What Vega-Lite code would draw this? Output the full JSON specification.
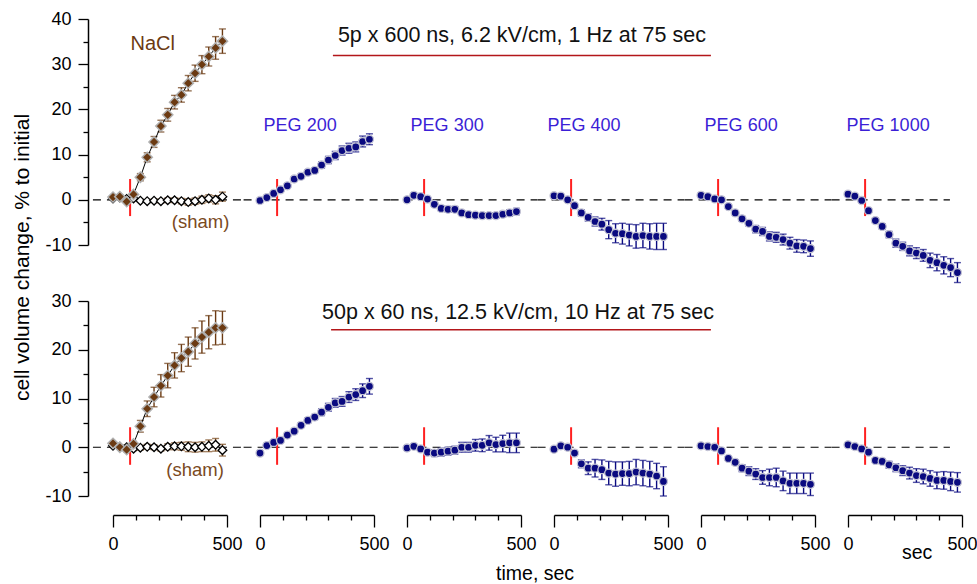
{
"$schema": "https://vega.github.io/schema/vega-lite/v6.json",
"padding": {"left": 11, "top": 10, "right": 0, "bottom": 0},
"spacing": 282,
"bounds": "flush",
"config": {"view": {"stroke": null}, "font": "Liberation Sans", "axis": {"grid": false, "labelFont": "Liberation Sans", "titleFont": "Liberation Sans", "labelOverlap": false, "labelFlush": false, "labelBound": false, "domainWidth": 1.5, "domainColor": "black", "tickColor": "black", "tickWidth": 1.3, "labelFontSize": 18, "labelColor": "black", "titleFontSize": 21, "titleFontWeight": "normal", "titleColor": "black"}},
"datasets": {
"top": [
{"p":"NaCl","s":"N","t":0,"v":0.6,"e":0.3},{"p":"NaCl","s":"N","t":30,"v":0.7,"e":0.3},{"p":"NaCl","s":"N","t":60,"v":-0.4,"e":0.3},{"p":"NaCl","s":"N","t":90,"v":1.2,"e":0.4},{"p":"NaCl","s":"N","t":120,"v":5.0,"e":0.8},{"p":"NaCl","s":"N","t":150,"v":9.4,"e":1.0},{"p":"NaCl","s":"N","t":180,"v":12.8,"e":1.2},{"p":"NaCl","s":"N","t":210,"v":16.3,"e":1.3},{"p":"NaCl","s":"N","t":240,"v":18.8,"e":1.4},{"p":"NaCl","s":"N","t":270,"v":21.6,"e":1.5},{"p":"NaCl","s":"N","t":300,"v":23.2,"e":1.6},{"p":"NaCl","s":"N","t":330,"v":25.8,"e":1.7},{"p":"NaCl","s":"N","t":360,"v":28.0,"e":1.8},{"p":"NaCl","s":"N","t":390,"v":29.9,"e":2.0},{"p":"NaCl","s":"N","t":420,"v":31.7,"e":2.1},{"p":"NaCl","s":"N","t":450,"v":33.6,"e":2.5},{"p":"NaCl","s":"N","t":480,"v":35.1,"e":2.7},
{"p":"NaCl","s":"S","t":0,"v":0.3,"e":0.2},{"p":"NaCl","s":"S","t":30,"v":0.5,"e":0.2},{"p":"NaCl","s":"S","t":60,"v":0.2,"e":0.2},{"p":"NaCl","s":"S","t":90,"v":0.3,"e":0.3},{"p":"NaCl","s":"S","t":120,"v":-0.2,"e":0.3},{"p":"NaCl","s":"S","t":150,"v":-0.3,"e":0.3},{"p":"NaCl","s":"S","t":180,"v":-0.2,"e":0.4},{"p":"NaCl","s":"S","t":210,"v":-0.3,"e":0.4},{"p":"NaCl","s":"S","t":240,"v":-0.1,"e":0.5},{"p":"NaCl","s":"S","t":270,"v":-0.1,"e":0.5},{"p":"NaCl","s":"S","t":300,"v":-0.3,"e":0.6},{"p":"NaCl","s":"S","t":330,"v":-0.5,"e":0.7},{"p":"NaCl","s":"S","t":360,"v":-0.3,"e":0.7},{"p":"NaCl","s":"S","t":390,"v":0.0,"e":0.8},{"p":"NaCl","s":"S","t":420,"v":0.3,"e":0.8},{"p":"NaCl","s":"S","t":450,"v":0.0,"e":0.9},{"p":"NaCl","s":"S","t":480,"v":0.7,"e":1.0},
{"p":"PEG 200","s":"P","t":0,"v":-0.15,"e":0.3},{"p":"PEG 200","s":"P","t":30,"v":0.5,"e":0.3},{"p":"PEG 200","s":"P","t":60,"v":1.4,"e":0.3},{"p":"PEG 200","s":"P","t":90,"v":2.2,"e":0.3},{"p":"PEG 200","s":"P","t":120,"v":3.1,"e":0.3},{"p":"PEG 200","s":"P","t":150,"v":4.6,"e":0.4},{"p":"PEG 200","s":"P","t":180,"v":5.2,"e":0.4},{"p":"PEG 200","s":"P","t":210,"v":6.1,"e":0.5},{"p":"PEG 200","s":"P","t":240,"v":6.5,"e":0.5},{"p":"PEG 200","s":"P","t":270,"v":7.7,"e":0.7},{"p":"PEG 200","s":"P","t":300,"v":8.8,"e":0.8},{"p":"PEG 200","s":"P","t":330,"v":9.8,"e":0.9},{"p":"PEG 200","s":"P","t":360,"v":10.9,"e":1.0},{"p":"PEG 200","s":"P","t":390,"v":11.4,"e":1.1},{"p":"PEG 200","s":"P","t":420,"v":11.7,"e":1.1},{"p":"PEG 200","s":"P","t":450,"v":12.9,"e":1.2},{"p":"PEG 200","s":"P","t":480,"v":13.4,"e":1.2},
{"p":"PEG 300","s":"P","t":0,"v":0.0,"e":0.3},{"p":"PEG 300","s":"P","t":30,"v":1.0,"e":0.3},{"p":"PEG 300","s":"P","t":60,"v":0.7,"e":0.3},{"p":"PEG 300","s":"P","t":90,"v":0.15,"e":0.3},{"p":"PEG 300","s":"P","t":120,"v":-1.0,"e":0.4},{"p":"PEG 300","s":"P","t":150,"v":-1.9,"e":0.5},{"p":"PEG 300","s":"P","t":180,"v":-2.1,"e":0.6},{"p":"PEG 300","s":"P","t":210,"v":-2.1,"e":0.6},{"p":"PEG 300","s":"P","t":240,"v":-2.9,"e":0.5},{"p":"PEG 300","s":"P","t":270,"v":-3.3,"e":0.5},{"p":"PEG 300","s":"P","t":300,"v":-3.4,"e":0.5},{"p":"PEG 300","s":"P","t":330,"v":-3.5,"e":0.6},{"p":"PEG 300","s":"P","t":360,"v":-3.5,"e":0.6},{"p":"PEG 300","s":"P","t":390,"v":-3.5,"e":0.6},{"p":"PEG 300","s":"P","t":420,"v":-3.2,"e":0.6},{"p":"PEG 300","s":"P","t":450,"v":-2.9,"e":0.7},{"p":"PEG 300","s":"P","t":480,"v":-2.6,"e":0.7},
{"p":"PEG 400","s":"P","t":0,"v":0.9,"e":0.2},{"p":"PEG 400","s":"P","t":30,"v":0.8,"e":0.2},{"p":"PEG 400","s":"P","t":60,"v":0.0,"e":0.3},{"p":"PEG 400","s":"P","t":90,"v":-1.3,"e":0.4},{"p":"PEG 400","s":"P","t":120,"v":-2.9,"e":0.7},{"p":"PEG 400","s":"P","t":150,"v":-3.9,"e":0.8},{"p":"PEG 400","s":"P","t":180,"v":-4.8,"e":1.0},{"p":"PEG 400","s":"P","t":210,"v":-5.4,"e":1.3},{"p":"PEG 400","s":"P","t":240,"v":-6.6,"e":2.0},{"p":"PEG 400","s":"P","t":270,"v":-7.4,"e":2.1},{"p":"PEG 400","s":"P","t":300,"v":-7.5,"e":2.3},{"p":"PEG 400","s":"P","t":330,"v":-7.8,"e":2.4},{"p":"PEG 400","s":"P","t":360,"v":-8.1,"e":2.6},{"p":"PEG 400","s":"P","t":390,"v":-7.9,"e":2.7},{"p":"PEG 400","s":"P","t":420,"v":-8.1,"e":2.8},{"p":"PEG 400","s":"P","t":450,"v":-8.1,"e":2.9},{"p":"PEG 400","s":"P","t":480,"v":-8.1,"e":2.9},
{"p":"PEG 600","s":"P","t":0,"v":1.0,"e":0.2},{"p":"PEG 600","s":"P","t":30,"v":0.7,"e":0.2},{"p":"PEG 600","s":"P","t":60,"v":0.2,"e":0.2},{"p":"PEG 600","s":"P","t":90,"v":0.0,"e":0.3},{"p":"PEG 600","s":"P","t":120,"v":-1.5,"e":0.3},{"p":"PEG 600","s":"P","t":150,"v":-2.9,"e":0.4},{"p":"PEG 600","s":"P","t":180,"v":-4.2,"e":0.5},{"p":"PEG 600","s":"P","t":210,"v":-5.2,"e":0.6},{"p":"PEG 600","s":"P","t":240,"v":-6.5,"e":0.8},{"p":"PEG 600","s":"P","t":270,"v":-7.0,"e":0.9},{"p":"PEG 600","s":"P","t":300,"v":-8.1,"e":1.0},{"p":"PEG 600","s":"P","t":330,"v":-8.3,"e":1.1},{"p":"PEG 600","s":"P","t":360,"v":-8.8,"e":1.2},{"p":"PEG 600","s":"P","t":390,"v":-9.6,"e":1.3},{"p":"PEG 600","s":"P","t":420,"v":-10.2,"e":1.4},{"p":"PEG 600","s":"P","t":450,"v":-10.3,"e":1.4},{"p":"PEG 600","s":"P","t":480,"v":-10.8,"e":1.7},
{"p":"PEG 1000","s":"P","t":0,"v":1.25,"e":0.2},{"p":"PEG 1000","s":"P","t":30,"v":0.8,"e":0.2},{"p":"PEG 1000","s":"P","t":60,"v":-0.15,"e":0.3},{"p":"PEG 1000","s":"P","t":90,"v":-2.4,"e":0.4},{"p":"PEG 1000","s":"P","t":120,"v":-4.6,"e":0.5},{"p":"PEG 1000","s":"P","t":150,"v":-5.9,"e":0.6},{"p":"PEG 1000","s":"P","t":180,"v":-7.7,"e":0.7},{"p":"PEG 1000","s":"P","t":210,"v":-9.6,"e":0.9},{"p":"PEG 1000","s":"P","t":240,"v":-10.3,"e":0.9},{"p":"PEG 1000","s":"P","t":270,"v":-11.3,"e":1.1},{"p":"PEG 1000","s":"P","t":300,"v":-11.8,"e":1.2},{"p":"PEG 1000","s":"P","t":330,"v":-12.3,"e":1.3},{"p":"PEG 1000","s":"P","t":360,"v":-13.4,"e":1.6},{"p":"PEG 1000","s":"P","t":390,"v":-13.9,"e":1.8},{"p":"PEG 1000","s":"P","t":420,"v":-14.5,"e":1.9},{"p":"PEG 1000","s":"P","t":450,"v":-15.0,"e":2.0},{"p":"PEG 1000","s":"P","t":480,"v":-16.1,"e":2.2}
],
"bot": [
{"p":"NaCl","s":"N","t":0,"v":0.8,"e":0.3},{"p":"NaCl","s":"N","t":30,"v":0.0,"e":0.3},{"p":"NaCl","s":"N","t":60,"v":-0.5,"e":0.4},{"p":"NaCl","s":"N","t":90,"v":0.7,"e":0.5},{"p":"NaCl","s":"N","t":120,"v":4.3,"e":1.2},{"p":"NaCl","s":"N","t":150,"v":7.9,"e":1.6},{"p":"NaCl","s":"N","t":180,"v":10.3,"e":2.0},{"p":"NaCl","s":"N","t":210,"v":12.6,"e":2.3},{"p":"NaCl","s":"N","t":240,"v":14.7,"e":2.5},{"p":"NaCl","s":"N","t":270,"v":16.8,"e":2.6},{"p":"NaCl","s":"N","t":300,"v":18.3,"e":2.8},{"p":"NaCl","s":"N","t":330,"v":19.6,"e":3.0},{"p":"NaCl","s":"N","t":360,"v":21.3,"e":3.2},{"p":"NaCl","s":"N","t":390,"v":22.6,"e":3.3},{"p":"NaCl","s":"N","t":420,"v":23.6,"e":3.4},{"p":"NaCl","s":"N","t":450,"v":24.5,"e":3.5},{"p":"NaCl","s":"N","t":480,"v":24.5,"e":3.4},
{"p":"NaCl","s":"S","t":0,"v":0.3,"e":0.3},{"p":"NaCl","s":"S","t":30,"v":0.1,"e":0.3},{"p":"NaCl","s":"S","t":60,"v":0.0,"e":0.4},{"p":"NaCl","s":"S","t":90,"v":-0.3,"e":0.4},{"p":"NaCl","s":"S","t":120,"v":-0.1,"e":0.5},{"p":"NaCl","s":"S","t":150,"v":0.1,"e":0.5},{"p":"NaCl","s":"S","t":180,"v":0.0,"e":0.5},{"p":"NaCl","s":"S","t":210,"v":-0.3,"e":0.5},{"p":"NaCl","s":"S","t":240,"v":0.1,"e":0.6},{"p":"NaCl","s":"S","t":270,"v":0.2,"e":0.7},{"p":"NaCl","s":"S","t":300,"v":0.2,"e":0.8},{"p":"NaCl","s":"S","t":330,"v":0.1,"e":1.0},{"p":"NaCl","s":"S","t":360,"v":0.0,"e":1.0},{"p":"NaCl","s":"S","t":390,"v":0.1,"e":1.0},{"p":"NaCl","s":"S","t":420,"v":0.3,"e":1.2},{"p":"NaCl","s":"S","t":450,"v":0.5,"e":1.3},{"p":"NaCl","s":"S","t":480,"v":-0.6,"e":1.2},
{"p":"PEG 200","s":"P","t":0,"v":-1.2,"e":0.3},{"p":"PEG 200","s":"P","t":30,"v":0.35,"e":0.3},{"p":"PEG 200","s":"P","t":60,"v":1.0,"e":0.3},{"p":"PEG 200","s":"P","t":90,"v":1.4,"e":0.3},{"p":"PEG 200","s":"P","t":120,"v":2.5,"e":0.3},{"p":"PEG 200","s":"P","t":150,"v":3.3,"e":0.3},{"p":"PEG 200","s":"P","t":180,"v":4.5,"e":0.4},{"p":"PEG 200","s":"P","t":210,"v":5.5,"e":0.5},{"p":"PEG 200","s":"P","t":240,"v":6.2,"e":0.5},{"p":"PEG 200","s":"P","t":270,"v":7.2,"e":0.7},{"p":"PEG 200","s":"P","t":300,"v":8.2,"e":0.8},{"p":"PEG 200","s":"P","t":330,"v":9.1,"e":0.9},{"p":"PEG 200","s":"P","t":360,"v":9.4,"e":1.0},{"p":"PEG 200","s":"P","t":390,"v":10.3,"e":1.1},{"p":"PEG 200","s":"P","t":420,"v":10.8,"e":1.2},{"p":"PEG 200","s":"P","t":450,"v":11.6,"e":1.4},{"p":"PEG 200","s":"P","t":480,"v":12.5,"e":1.6},
{"p":"PEG 300","s":"P","t":0,"v":-0.15,"e":0.3},{"p":"PEG 300","s":"P","t":30,"v":0.2,"e":0.3},{"p":"PEG 300","s":"P","t":60,"v":-0.35,"e":0.3},{"p":"PEG 300","s":"P","t":90,"v":-1.0,"e":0.5},{"p":"PEG 300","s":"P","t":120,"v":-1.2,"e":0.7},{"p":"PEG 300","s":"P","t":150,"v":-1.0,"e":0.8},{"p":"PEG 300","s":"P","t":180,"v":-0.8,"e":0.8},{"p":"PEG 300","s":"P","t":210,"v":-0.6,"e":0.8},{"p":"PEG 300","s":"P","t":240,"v":0.0,"e":1.0},{"p":"PEG 300","s":"P","t":270,"v":0.0,"e":1.0},{"p":"PEG 300","s":"P","t":300,"v":0.4,"e":1.2},{"p":"PEG 300","s":"P","t":330,"v":0.4,"e":1.3},{"p":"PEG 300","s":"P","t":360,"v":0.9,"e":1.5},{"p":"PEG 300","s":"P","t":390,"v":0.55,"e":1.5},{"p":"PEG 300","s":"P","t":420,"v":0.75,"e":1.7},{"p":"PEG 300","s":"P","t":450,"v":0.9,"e":2.0},{"p":"PEG 300","s":"P","t":480,"v":0.9,"e":2.0},
{"p":"PEG 400","s":"P","t":0,"v":-0.4,"e":0.2},{"p":"PEG 400","s":"P","t":30,"v":0.3,"e":0.2},{"p":"PEG 400","s":"P","t":60,"v":0.0,"e":0.3},{"p":"PEG 400","s":"P","t":90,"v":-1.2,"e":0.4},{"p":"PEG 400","s":"P","t":120,"v":-3.4,"e":0.8},{"p":"PEG 400","s":"P","t":150,"v":-4.3,"e":1.3},{"p":"PEG 400","s":"P","t":180,"v":-4.3,"e":1.8},{"p":"PEG 400","s":"P","t":210,"v":-4.6,"e":2.0},{"p":"PEG 400","s":"P","t":240,"v":-5.3,"e":2.4},{"p":"PEG 400","s":"P","t":270,"v":-5.5,"e":2.5},{"p":"PEG 400","s":"P","t":300,"v":-5.4,"e":2.4},{"p":"PEG 400","s":"P","t":330,"v":-5.4,"e":2.5},{"p":"PEG 400","s":"P","t":360,"v":-5.1,"e":2.6},{"p":"PEG 400","s":"P","t":390,"v":-5.3,"e":2.6},{"p":"PEG 400","s":"P","t":420,"v":-5.5,"e":2.6},{"p":"PEG 400","s":"P","t":450,"v":-5.9,"e":2.6},{"p":"PEG 400","s":"P","t":480,"v":-7.0,"e":3.0},
{"p":"PEG 600","s":"P","t":0,"v":0.3,"e":0.2},{"p":"PEG 600","s":"P","t":30,"v":0.15,"e":0.2},{"p":"PEG 600","s":"P","t":60,"v":0.0,"e":0.2},{"p":"PEG 600","s":"P","t":90,"v":-0.75,"e":0.3},{"p":"PEG 600","s":"P","t":120,"v":-2.3,"e":0.4},{"p":"PEG 600","s":"P","t":150,"v":-3.1,"e":0.5},{"p":"PEG 600","s":"P","t":180,"v":-4.3,"e":0.7},{"p":"PEG 600","s":"P","t":210,"v":-4.9,"e":0.9},{"p":"PEG 600","s":"P","t":240,"v":-5.5,"e":1.1},{"p":"PEG 600","s":"P","t":270,"v":-6.2,"e":1.4},{"p":"PEG 600","s":"P","t":300,"v":-6.2,"e":1.7},{"p":"PEG 600","s":"P","t":330,"v":-6.2,"e":1.9},{"p":"PEG 600","s":"P","t":360,"v":-6.9,"e":2.0},{"p":"PEG 600","s":"P","t":390,"v":-7.4,"e":2.1},{"p":"PEG 600","s":"P","t":420,"v":-7.4,"e":2.1},{"p":"PEG 600","s":"P","t":450,"v":-7.4,"e":2.1},{"p":"PEG 600","s":"P","t":480,"v":-7.6,"e":2.3},
{"p":"PEG 1000","s":"P","t":0,"v":0.5,"e":0.2},{"p":"PEG 1000","s":"P","t":30,"v":0.15,"e":0.2},{"p":"PEG 1000","s":"P","t":60,"v":-0.35,"e":0.2},{"p":"PEG 1000","s":"P","t":90,"v":-1.0,"e":0.3},{"p":"PEG 1000","s":"P","t":120,"v":-2.7,"e":0.4},{"p":"PEG 1000","s":"P","t":150,"v":-2.9,"e":0.5},{"p":"PEG 1000","s":"P","t":180,"v":-3.6,"e":0.7},{"p":"PEG 1000","s":"P","t":210,"v":-4.2,"e":0.8},{"p":"PEG 1000","s":"P","t":240,"v":-4.8,"e":1.0},{"p":"PEG 1000","s":"P","t":270,"v":-5.3,"e":1.2},{"p":"PEG 1000","s":"P","t":300,"v":-5.8,"e":1.4},{"p":"PEG 1000","s":"P","t":330,"v":-6.0,"e":1.5},{"p":"PEG 1000","s":"P","t":360,"v":-6.4,"e":1.6},{"p":"PEG 1000","s":"P","t":390,"v":-6.8,"e":1.7},{"p":"PEG 1000","s":"P","t":420,"v":-6.8,"e":1.8},{"p":"PEG 1000","s":"P","t":450,"v":-7.0,"e":1.9},{"p":"PEG 1000","s":"P","t":480,"v":-7.2,"e":2.0}
]
},
"vconcat": [
{
"data": {"name": "top"},
"facet": {"column": {"field": "p", "type": "nominal", "sort": ["NaCl","PEG 200","PEG 300","PEG 400","PEG 600","PEG 1000"], "header": {"title": null, "labels": false}}},
"spacing": 33,
"bounds": "flush",
"spec": {
"width": 114, "height": 226,
"layer": [
{"transform": [{"filter": "datum.s == 'N' && datum.t == 0"}], "mark": {"type": "rule", "strokeDash": [8, 6], "color": "black", "strokeWidth": 1.2},
 "encoding": {"x": {"datum": -88, "type": "quantitative", "scale": {"domain": [0, 500], "nice": false}, "axis": null}, "x2": {"datum": 572}, "y": {"datum": 0, "type": "quantitative", "scale": {"domain": [-10, 40], "nice": false},
  "axis": {"values": [-10,-5,0,5,10,15,20,25,30,35,40], "tickCount": 100, "labelExpr": "datum.value % 10 == 0 ? '' + datum.value : ''", "tickSize": {"condition": {"test": "datum.value % 10 == 0", "value": 10}, "value": 5}, "offset": 25, "labelPadding": 7, "title": "cell volume change, % to initial", "titleX": -56, "titleY": 238}}}},
{"transform": [{"filter": "datum.s == 'P' && datum.t == 0 && datum.p != 'PEG 1000'"}], "mark": {"type": "rule", "strokeDash": [8, 6], "color": "black", "strokeWidth": 1.2},
 "encoding": {"x": {"datum": -72, "type": "quantitative", "axis": null}, "x2": {"datum": 572}, "y": {"datum": 0, "type": "quantitative"}}},
{"transform": [{"filter": "datum.p == 'PEG 1000' && datum.t == 0"}], "mark": {"type": "rule", "strokeDash": [8, 6], "color": "black", "strokeWidth": 1.2},
 "encoding": {"x": {"datum": -72, "type": "quantitative", "axis": null}, "x2": {"datum": 447}, "y": {"datum": 0, "type": "quantitative"}}},
{"transform": [{"filter": "datum.s != 'S' && datum.t == 0"}], "mark": {"type": "rule", "color": "#ff2020", "strokeWidth": 2},
 "encoding": {"x": {"datum": 75, "type": "quantitative", "axis": null}, "y": {"datum": -3.6, "type": "quantitative"}, "y2": {"datum": 4.6}}},
{"mark": {"type": "errorbar", "ticks": {"size": 7}, "thickness": 1.4},
 "encoding": {"x": {"field": "t", "type": "quantitative", "axis": null}, "y": {"field": "v", "type": "quantitative", "title": "cell volume change, % to initial"}, "yError": {"field": "e"}, "color": {"field": "s", "type": "nominal", "scale": {"domain": ["N","S","P"], "range": ["#6b3a12","#7a4a1e","#0a0a80"]}, "legend": null}}},
{"transform": [{"filter": "datum.s != 'P'"}], "mark": {"type": "line", "color": "black", "strokeWidth": 1},
 "encoding": {"x": {"field": "t", "type": "quantitative", "axis": null}, "y": {"field": "v", "type": "quantitative", "title": "cell volume change, % to initial"}, "detail": {"field": "s"}}},
{"transform": [{"filter": "datum.s == 'S'"}], "mark": {"type": "point", "shape": "diamond", "filled": true, "fill": "white", "stroke": "black", "strokeWidth": 1.3, "size": 75, "opacity": 1},
 "encoding": {"x": {"field": "t", "type": "quantitative", "axis": null}, "y": {"field": "v", "type": "quantitative", "title": "cell volume change, % to initial"}}},
{"transform": [{"filter": "datum.s == 'N'"}], "mark": {"type": "point", "shape": "diamond", "filled": true, "fill": "#6b3a12", "stroke": "#b0b0b0", "strokeWidth": 1.5, "size": 105, "opacity": 1},
 "encoding": {"x": {"field": "t", "type": "quantitative", "axis": null}, "y": {"field": "v", "type": "quantitative", "title": "cell volume change, % to initial"}}},
{"transform": [{"filter": "datum.s == 'P'"}], "mark": {"type": "point", "shape": "circle", "filled": true, "fill": "#0a0a80", "stroke": "#c4c4d4", "strokeWidth": 1.3, "size": 64, "opacity": 1},
 "encoding": {"x": {"field": "t", "type": "quantitative", "axis": null}, "y": {"field": "v", "type": "quantitative", "title": "cell volume change, % to initial"}}},
{"transform": [{"filter": "datum.s == 'N' && datum.t == 0"}], "mark": {"type": "text", "text": "NaCl", "fontSize": 20, "color": "#6b3a12", "align": "center", "baseline": "middle"},
 "encoding": {"x": {"datum": 174, "type": "quantitative", "axis": null}, "y": {"datum": 34.5, "type": "quantitative"}}},
{"transform": [{"filter": "datum.s == 'S' && datum.t == 0"}], "mark": {"type": "text", "text": "(sham)", "fontSize": 18.5, "color": "#7a4a1e", "align": "center", "baseline": "middle"},
 "encoding": {"x": {"datum": 384, "type": "quantitative", "axis": null}, "y": {"datum": -4.95, "type": "quantitative"}}},
{"transform": [{"filter": "datum.s == 'P' && datum.t == 0 && datum.p != 'PEG 400'"}], "mark": {"type": "text", "fontSize": 18, "color": "#3b1fd6", "align": "center", "baseline": "middle"},
 "encoding": {"text": {"field": "p"}, "x": {"datum": 176, "type": "quantitative", "axis": null}, "y": {"datum": 16.4, "type": "quantitative"}}},
{"transform": [{"filter": "datum.p == 'PEG 400' && datum.t == 0"}], "mark": {"type": "text", "fontSize": 18, "color": "#3b1fd6", "align": "center", "baseline": "middle"},
 "encoding": {"text": {"field": "p"}, "x": {"datum": 132, "type": "quantitative", "axis": null}, "y": {"datum": 16.4, "type": "quantitative"}}},
{"transform": [{"filter": "datum.p == 'PEG 300' && datum.t == 0"}], "mark": {"type": "text", "text": "5p x 600 ns, 6.2 kV/cm, 1 Hz at 75 sec", "fontSize": 21.5, "color": "#111111", "align": "center", "baseline": "middle"},
 "encoding": {"x": {"datum": 504, "type": "quantitative", "axis": null}, "y": {"datum": 36.3, "type": "quantitative"}}},
{"transform": [{"filter": "datum.p == 'PEG 300' && datum.t == 0"}], "mark": {"type": "rule", "color": "#b3161a", "strokeWidth": 1.5},
 "encoding": {"x": {"datum": -325, "type": "quantitative", "axis": null}, "x2": {"datum": 1333}, "y": {"datum": 31.9, "type": "quantitative"}}}
]
}
},
{
"data": {"name": "bot"},
"facet": {"column": {"field": "p", "type": "nominal", "sort": ["NaCl","PEG 200","PEG 300","PEG 400","PEG 600","PEG 1000"], "header": {"title": null, "labels": false}}},
"spacing": 33,
"bounds": "flush",
"spec": {
"width": 114, "height": 195,
"layer": [
{"transform": [{"filter": "datum.s == 'N' && datum.t == 0"}], "mark": {"type": "rule", "strokeDash": [8, 6], "color": "black", "strokeWidth": 1.2},
 "encoding": {"x": {"datum": -88, "type": "quantitative", "scale": {"domain": [0, 500], "nice": false},
  "axis": {"values": [0,100,200,300,400,500], "tickCount": 100, "labelExpr": "datum.value % 500 == 0 ? '' + datum.value : ''", "tickSize": {"condition": {"test": "datum.value % 500 == 0", "value": 12}, "value": 5}, "offset": 19, "labelPadding": 8, "labelOverlap": false, "labelFlush": false, "labelBound": false, "title": null}},
  "x2": {"datum": 572}, "y": {"datum": 0, "type": "quantitative", "scale": {"domain": [-10, 30], "nice": false},
  "axis": {"values": [-10,-5,0,5,10,15,20,25,30], "tickCount": 100, "labelExpr": "datum.value % 10 == 0 ? '' + datum.value : ''", "tickSize": {"condition": {"test": "datum.value % 10 == 0", "value": 10}, "value": 5}, "offset": 25, "labelPadding": 7, "title": null}}}},
{"transform": [{"filter": "datum.s == 'P' && datum.t == 0 && datum.p != 'PEG 1000'"}], "mark": {"type": "rule", "strokeDash": [8, 6], "color": "black", "strokeWidth": 1.2},
 "encoding": {"x": {"datum": -72, "type": "quantitative"}, "x2": {"datum": 572}, "y": {"datum": 0, "type": "quantitative"}}},
{"transform": [{"filter": "datum.p == 'PEG 1000' && datum.t == 0"}], "mark": {"type": "rule", "strokeDash": [8, 6], "color": "black", "strokeWidth": 1.2},
 "encoding": {"x": {"datum": -72, "type": "quantitative"}, "x2": {"datum": 447}, "y": {"datum": 0, "type": "quantitative"}}},
{"transform": [{"filter": "datum.s != 'S' && datum.t == 0"}], "mark": {"type": "rule", "color": "#ff2020", "strokeWidth": 2},
 "encoding": {"x": {"datum": 75, "type": "quantitative"}, "y": {"datum": -3.6, "type": "quantitative"}, "y2": {"datum": 4.1}}},
{"mark": {"type": "errorbar", "ticks": {"size": 7}, "thickness": 1.4},
 "encoding": {"x": {"field": "t", "type": "quantitative", "title": null, "axis": {"values": [0,100,200,300,400,500], "tickCount": 100, "labelExpr": "datum.value % 500 == 0 ? '' + datum.value : ''", "tickSize": {"condition": {"test": "datum.value % 500 == 0", "value": 12}, "value": 5}, "offset": 19, "labelPadding": 8, "labelOverlap": false, "labelFlush": false, "labelBound": false, "title": null}}, "y": {"field": "v", "type": "quantitative", "title": null}, "yError": {"field": "e"}, "color": {"field": "s", "type": "nominal", "scale": {"domain": ["N","S","P"], "range": ["#6b3a12","#7a4a1e","#0a0a80"]}, "legend": null}}},
{"transform": [{"filter": "datum.s != 'P'"}], "mark": {"type": "line", "color": "black", "strokeWidth": 1},
 "encoding": {"x": {"field": "t", "type": "quantitative", "title": null, "axis": {"values": [0,100,200,300,400,500], "tickCount": 100, "labelExpr": "datum.value % 500 == 0 ? '' + datum.value : ''", "tickSize": {"condition": {"test": "datum.value % 500 == 0", "value": 12}, "value": 5}, "offset": 19, "labelPadding": 8, "labelOverlap": false, "labelFlush": false, "labelBound": false, "title": null}}, "y": {"field": "v", "type": "quantitative", "title": null}, "detail": {"field": "s"}}},
{"transform": [{"filter": "datum.s == 'S'"}], "mark": {"type": "point", "shape": "diamond", "filled": true, "fill": "white", "stroke": "black", "strokeWidth": 1.3, "size": 75, "opacity": 1},
 "encoding": {"x": {"field": "t", "type": "quantitative", "title": null, "axis": {"values": [0,100,200,300,400,500], "tickCount": 100, "labelExpr": "datum.value % 500 == 0 ? '' + datum.value : ''", "tickSize": {"condition": {"test": "datum.value % 500 == 0", "value": 12}, "value": 5}, "offset": 19, "labelPadding": 8, "labelOverlap": false, "labelFlush": false, "labelBound": false, "title": null}}, "y": {"field": "v", "type": "quantitative", "title": null}}},
{"transform": [{"filter": "datum.s == 'N'"}], "mark": {"type": "point", "shape": "diamond", "filled": true, "fill": "#6b3a12", "stroke": "#b0b0b0", "strokeWidth": 1.5, "size": 105, "opacity": 1},
 "encoding": {"x": {"field": "t", "type": "quantitative", "title": null, "axis": {"values": [0,100,200,300,400,500], "tickCount": 100, "labelExpr": "datum.value % 500 == 0 ? '' + datum.value : ''", "tickSize": {"condition": {"test": "datum.value % 500 == 0", "value": 12}, "value": 5}, "offset": 19, "labelPadding": 8, "labelOverlap": false, "labelFlush": false, "labelBound": false, "title": null}}, "y": {"field": "v", "type": "quantitative", "title": null}}},
{"transform": [{"filter": "datum.s == 'P'"}], "mark": {"type": "point", "shape": "circle", "filled": true, "fill": "#0a0a80", "stroke": "#c4c4d4", "strokeWidth": 1.3, "size": 64, "opacity": 1},
 "encoding": {"x": {"field": "t", "type": "quantitative", "title": null, "axis": {"values": [0,100,200,300,400,500], "tickCount": 100, "labelExpr": "datum.value % 500 == 0 ? '' + datum.value : ''", "tickSize": {"condition": {"test": "datum.value % 500 == 0", "value": 12}, "value": 5}, "offset": 19, "labelPadding": 8, "labelOverlap": false, "labelFlush": false, "labelBound": false, "title": null}}, "y": {"field": "v", "type": "quantitative", "title": null}}},
{"transform": [{"filter": "datum.s == 'S' && datum.t == 0"}], "mark": {"type": "text", "text": "(sham)", "fontSize": 18.5, "color": "#7a4a1e", "align": "center", "baseline": "middle"},
 "encoding": {"x": {"datum": 360, "type": "quantitative"}, "y": {"datum": -4.6, "type": "quantitative"}}},
{"transform": [{"filter": "datum.p == 'PEG 300' && datum.t == 0"}], "mark": {"type": "text", "text": "50p x 60 ns, 12.5 kV/cm, 10 Hz at 75 sec", "fontSize": 21.5, "color": "#111111", "align": "center", "baseline": "middle"},
 "encoding": {"x": {"datum": 487, "type": "quantitative"}, "y": {"datum": 27.5, "type": "quantitative"}}},
{"transform": [{"filter": "datum.p == 'PEG 300' && datum.t == 0"}], "mark": {"type": "rule", "color": "#b3161a", "strokeWidth": 1.5},
 "encoding": {"x": {"datum": -333, "type": "quantitative"}, "x2": {"datum": 1333}, "y": {"datum": 24.1, "type": "quantitative"}}},
{"transform": [{"filter": "datum.p == 'PEG 400' && datum.t == 0"}], "mark": {"type": "text", "text": "time, sec", "fontSize": 19.5, "color": "black", "align": "center", "baseline": "middle"},
 "encoding": {"x": {"datum": -83, "type": "quantitative"}, "y": {"datum": -25.9, "type": "quantitative"}}},
{"transform": [{"filter": "datum.p == 'PEG 1000' && datum.t == 0"}], "mark": {"type": "text", "text": "sec", "fontSize": 19.5, "color": "black", "align": "center", "baseline": "middle"},
 "encoding": {"x": {"datum": 303, "type": "quantitative"}, "y": {"datum": -21.6, "type": "quantitative"}}}
]
}
}
]
}
